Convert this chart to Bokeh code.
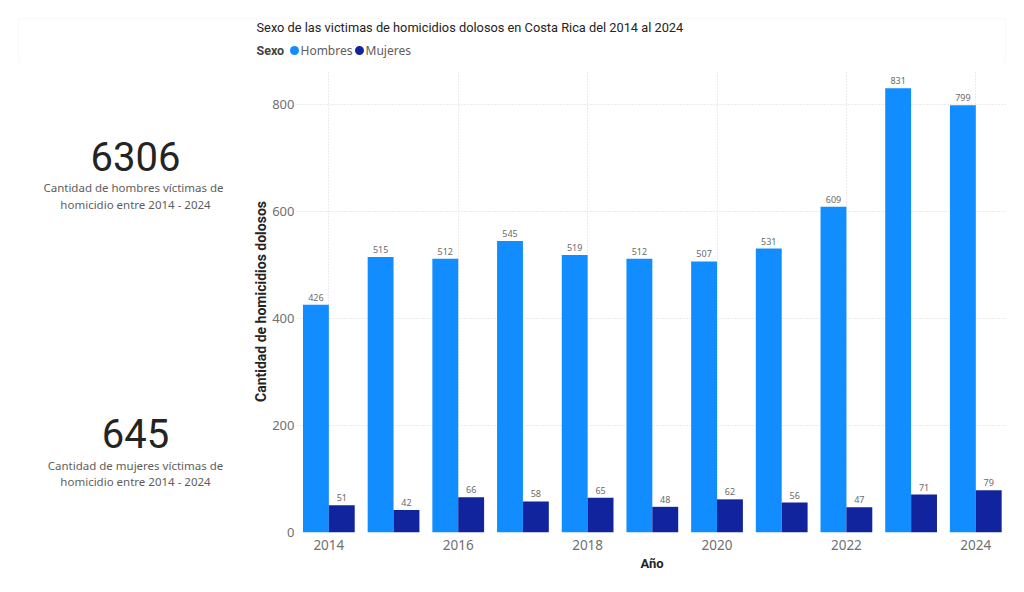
from bokeh.plotting import figure
from bokeh.layouts import row, column
from bokeh.models import (ColumnDataSource, Range1d, FixedTicker, LabelSet,
                          BoxAnnotation)
from bokeh.core.properties import value
from bokeh.transform import dodge
from bokeh.embed import file_html
from bokeh.resources import INLINE

# ---- data ----
years = [2014, 2015, 2016, 2017, 2018, 2019, 2020, 2021, 2022, 2023, 2024]
hombres = [426, 515, 512, 545, 519, 512, 507, 531, 609, 831, 799]
mujeres = [51, 42, 66, 58, 65, 48, 62, 56, 47, 71, 79]
x_ticks = [2014, 2016, 2018, 2020, 2022, 2024]
y_ticks = [0, 200, 400, 600, 800]
series_names = ["Hombres", "Mujeres"]
series_colors = ["#118DFF", "#12239E"]

title_text = "Sexo de las victimas de homicidios dolosos en Costa Rica del 2014 al 2024"
kpi_hombres = sum(hombres)
kpi_mujeres = sum(mujeres)

TXT = "#605E5C"
DARK = "#252423"
FONT = "Noto Sans"
DIN = "Roboto"

W, H = 1008, 576
LEFT_W = 238
TOP_H = 62
FRAME_TOP, FRAME_BOTTOM = 70, 532   # page pixels of the chart frame


def blank(width, height, x0, x1, y0, y1):
    f = figure(width=width, height=height, output_backend="svg", toolbar_location=None,
               x_range=Range1d(x0, x1), y_range=Range1d(y1, y0),
               x_axis_type=None, y_axis_type=None,
               min_border_left=0, min_border_right=0, min_border_top=0,
               min_border_bottom=0)
    f.outline_line_color = None
    f.grid.visible = False
    return f


def txt(f, s, px, py, size, color, font, align="left", style="normal"):
    f.text(x=[px], y=[py], text=[s], text_align=align, text_baseline="middle",
           text_font_size=size, text_color=color, text_font=value(font),
           text_font_style=style)


# ---- top: title + legend (full width) ----
top = blank(W, TOP_H, 0, W, 0, TOP_H)
top.add_layout(BoxAnnotation(left=18, right=1005, top=18, bottom=90,
                             fill_alpha=0, line_color="#ececec", line_width=1))
txt(top, title_text, 256, 27, "12.8px", DARK, DIN)
txt(top, "Sexo", 256, 50, "12.5px", "#444444", DIN, style="bold")
legend_x = [294, 359]
top.scatter(x=legend_x, y=[50, 50], marker="circle", size=9,
            fill_color=series_colors, line_color=None)
for lx, name in zip(legend_x, series_names):
    txt(top, name, lx + 6, 50, "12px", TXT, FONT)

# ---- left KPI panel (frame aligned with the chart frame) ----
left = blank(LEFT_W, H - TOP_H, 0, LEFT_W, FRAME_TOP, FRAME_BOTTOM)
txt(left, str(kpi_hombres), 135, 156, "40px", DARK, DIN, align="center")
txt(left, "Cantidad de hombres víctimas de", 133, 187, "11.5px", TXT, FONT, align="center")
txt(left, "homicidio entre 2014 - 2024", 135, 204, "11.5px", TXT, FONT, align="center")
txt(left, str(kpi_mujeres), 135, 433, "40px", DARK, DIN, align="center")
txt(left, "Cantidad de mujeres víctimas de", 135, 465, "11.5px", TXT, FONT, align="center")
txt(left, "homicidio entre 2014 - 2024", 135, 481, "11.5px", TXT, FONT, align="center")

# ---- main chart ----
src = ColumnDataSource(dict(
    year=years, hombres=hombres, mujeres=mujeres,
    hombres_txt=[str(v) for v in hombres],
    mujeres_txt=[str(v) for v in mujeres],
))

p = figure(width=W - LEFT_W, height=H - TOP_H, output_backend="svg",
           toolbar_location=None,
           x_range=Range1d(2013.5, 2024.49), y_range=Range1d(0, 864),
           min_border_left=58, min_border_right=1, min_border_top=8,
           min_border_bottom=44)
p.outline_line_color = None

bw = 0.4
p.vbar(x=dodge("year", -0.2), top="hombres", width=bw, source=src,
       fill_color=series_colors[0], line_color=None)
p.vbar(x=dodge("year", 0.2), top="mujeres", width=bw, source=src,
       fill_color=series_colors[1], line_color=None)

lab_kw = dict(text_align="center", text_baseline="bottom", y_offset=4,
              text_font_size="9px", text_color="#6b6b6b", text_font=value(FONT))
p.add_layout(LabelSet(x=dodge("year", -0.2), y="hombres", text="hombres_txt",
                      source=src, **lab_kw))
p.add_layout(LabelSet(x=dodge("year", 0.2), y="mujeres", text="mujeres_txt",
                      source=src, **lab_kw))

p.xaxis.ticker = FixedTicker(ticks=x_ticks)
p.yaxis.ticker = FixedTicker(ticks=y_ticks)
for ax in (p.xaxis[0], p.yaxis[0]):
    ax.axis_line_color = None
    ax.major_tick_line_color = None
    ax.minor_tick_line_color = None
    ax.major_tick_out = 0
    ax.major_label_text_font = FONT
    ax.major_label_text_font_size = "13.5px"
    ax.major_label_text_color = "#707070"
    ax.axis_label_text_font = DIN
    ax.axis_label_text_font_style = "bold"
    ax.axis_label_text_color = DARK
p.yaxis.major_label_text_font_size = "13px"
p.xaxis.axis_label = "Año"
p.yaxis.axis_label = "Cantidad de homicidios dolosos"
p.xaxis.axis_label_text_font_size = "13px"
p.yaxis.axis_label_text_font_size = "14px"
p.xaxis.major_label_standoff = 7
p.xaxis.axis_label_standoff = 3
p.yaxis.major_label_standoff = 2
p.yaxis.axis_label_standoff = 0

p.xgrid.ticker = FixedTicker(ticks=x_ticks)
p.ygrid.ticker = FixedTicker(ticks=y_ticks[1:])
for g in (p.xgrid[0], p.ygrid[0]):
    g.grid_line_color = "#d6d6d6"
    g.grid_line_dash = "1 2"
    g.grid_line_width = 1

layout = column(top, row(left, p))

open("out.html", "w").write(file_html(layout, INLINE))
